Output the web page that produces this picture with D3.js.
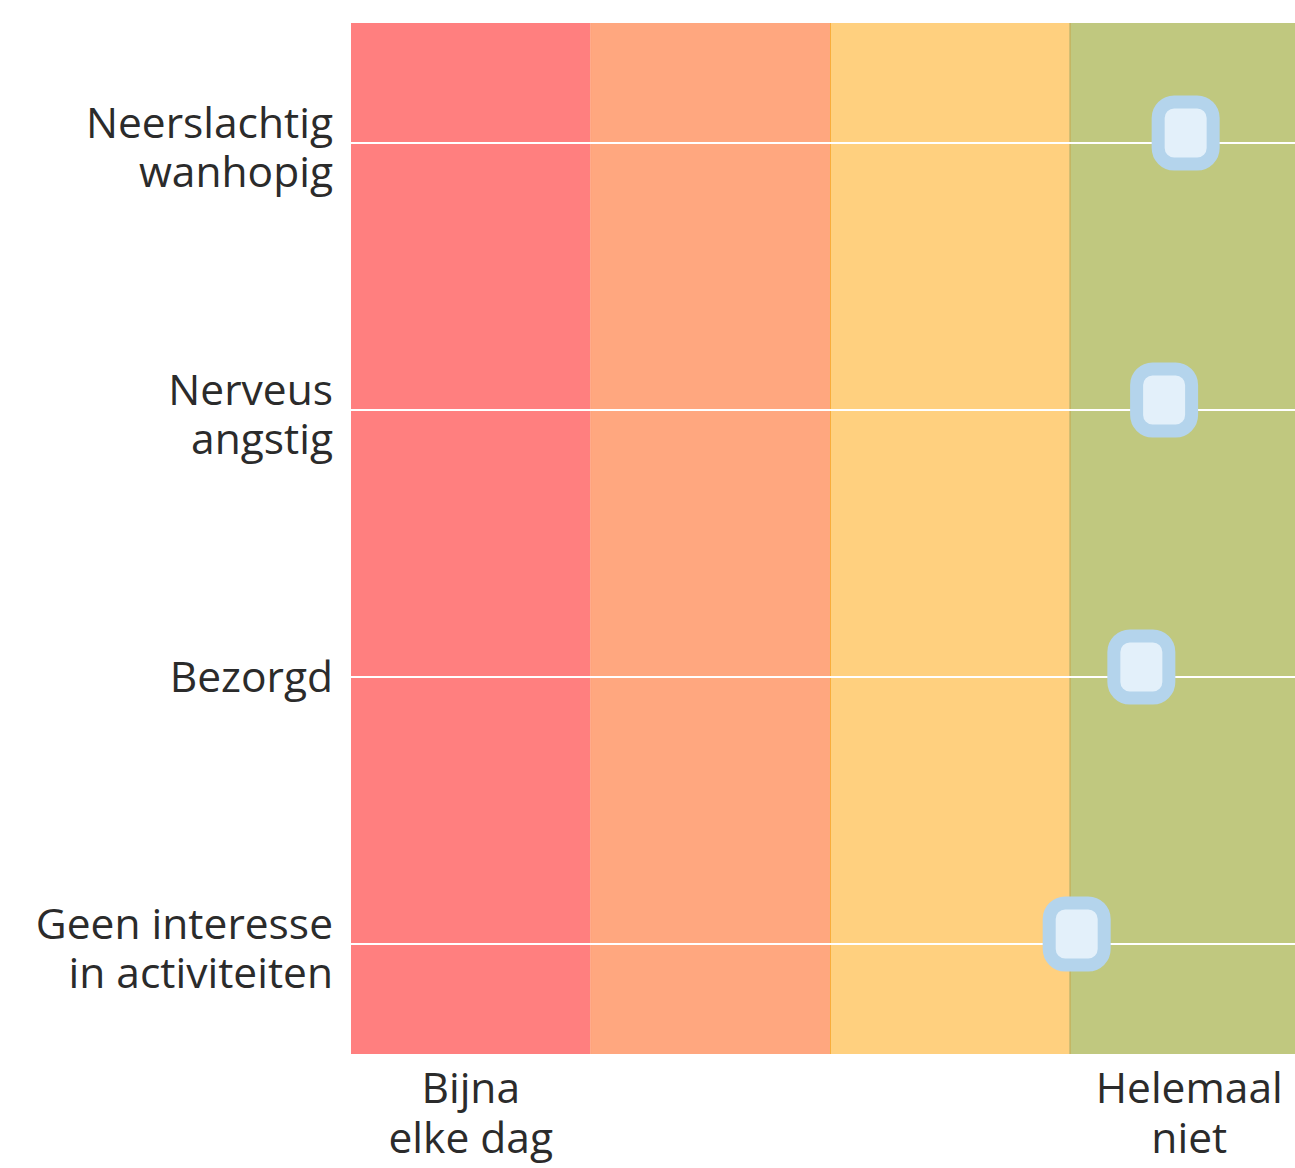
<!DOCTYPE html>
<html>
<head>
<meta charset="utf-8">
<script src="https://cdn.jsdelivr.net/npm/d3@7"></script>
<style>
  html, body { margin: 0; padding: 0; background: #fff; overflow: hidden; }
  svg { display: block; }
  text { font-family: "Open Sans", sans-serif; fill: #2b2b2b; }
</style>
</head>
<body>
<svg id="chart" width="1295" height="1168"></svg>
<script>
// Data
const categories = [
  ["Neerslachtig", "wanhopig"],
  ["Nerveus", "angstig"],
  ["Bezorgd"],
  ["Geen interesse", "in activiteiten"]
];
const values = [0.015, 0.105, 0.2, 0.47];
const bandValues = [3, 2, 1, 0];
const bandColors = ["#ff7f7f", "#ffa77f", "#ffd07f", "#c0c87f"];
const bandEdgeColors = ["#ff7f7f", "#ffa27a", "#f9ad3c", "#c8a448"];
const axisLabels = [
  { value: 3, lines: ["Bijna", "elke dag"] },
  { value: 0, lines: ["Helemaal", "niet"] }
];

(function () {
const svg = d3.select("#chart");
const plotTop = 23, plotBottom = 1054, plotLeft = 351;
const fontSize = 42.5;

const x = d3.scaleLinear().domain([3.5, -0.5]).range([plotLeft, 1309]);
const y = d3.scalePoint().domain(d3.range(categories.length)).range([143, 944]);

// Bands
svg.append("g").selectAll("rect")
  .data(bandValues)
  .join("rect")
  .attr("x", d => x(d + 0.5))
  .attr("y", plotTop)
  .attr("width", d => x(d - 0.5) - x(d + 0.5))
  .attr("height", plotBottom - plotTop)
  .attr("fill", (d, i) => bandColors[i]);

// band edges
svg.append("g").selectAll("line")
  .data(bandValues.slice(1))
  .join("line")
  .attr("x1", d => x(d + 0.5) + 0.5)
  .attr("x2", d => x(d + 0.5) + 0.5)
  .attr("y1", plotTop)
  .attr("y2", plotBottom)
  .attr("stroke", (d, i) => bandEdgeColors[i + 1])
  .attr("stroke-width", 1);

// Row lines
svg.append("g").selectAll("line")
  .data(categories.map((c, i) => i))
  .join("line")
  .attr("x1", plotLeft)
  .attr("x2", 1309)
  .attr("y1", d => y(d))
  .attr("y2", d => y(d))
  .attr("stroke", "#ffffff")
  .attr("stroke-width", 2.2);

// Row labels (one text per line)
const rowLines = [];
categories.forEach((lines, i) => {
  lines.forEach((l, k) => {
    const dy = lines.length === 1 ? 15 : (k === 0 ? -5 : 44);
    rowLines.push({ text: l, i, dy });
  });
});
svg.append("g").selectAll("text")
  .data(rowLines)
  .join("text")
  .attr("text-anchor", "end")
  .attr("font-size", fontSize)
  .attr("x", 333)
  .attr("y", d => y(d.i) + d.dy)
  .text(d => d.text);

// Markers
svg.append("g").selectAll("rect")
  .data(values.map((v, i) => ({ v, i })))
  .join("rect")
  .attr("x", d => x(d.v) - 27.5)
  .attr("y", d => y(d.i) - 10 - 31)
  .attr("width", 55)
  .attr("height", 62)
  .attr("rx", 16)
  .attr("ry", 16)
  .attr("fill", "#e3f0fa")
  .attr("stroke", "#b4d4ec")
  .attr("stroke-width", 13);

// Axis labels (one text per line)
const axisLines = [];
axisLabels.forEach(a => a.lines.forEach((l, k) => axisLines.push({ text: l, value: a.value, k })));
svg.append("g").selectAll("text")
  .data(axisLines)
  .join("text")
  .attr("text-anchor", "middle")
  .attr("font-size", fontSize)
  .attr("x", d => x(d.value))
  .attr("y", d => 1103 + d.k * 50)
  .text(d => d.text);
})();
</script>
</body>
</html>
